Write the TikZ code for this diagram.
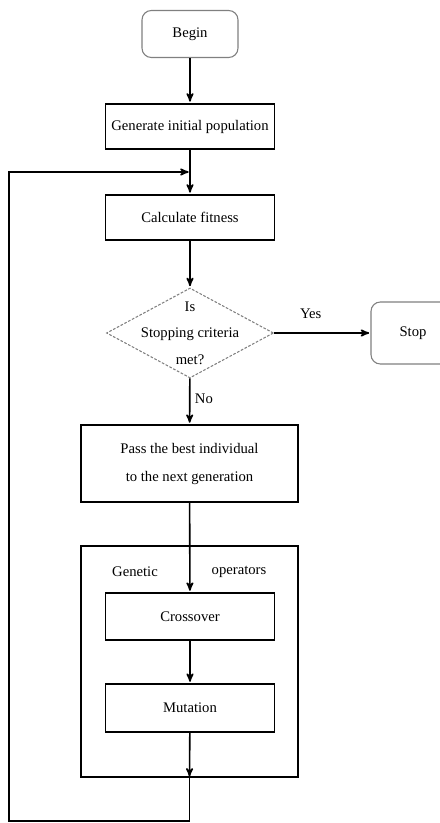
\documentclass[tikz,border=0pt]{standalone}
\usepackage{fontspec}
\setmainfont{Liberation Serif}
\usetikzlibrary{arrows,shapes.geometric}

\begin{document}
\begin{tikzpicture}[x=0.75pt,y=-0.75pt,->,>=stealth',shorten >=1pt,auto,line width=1.2pt,
  font=\fontsize{11}{13}\selectfont,
  end node/.style={rectangle,rounded corners=7pt,draw=gray,line width=0.8pt,minimum height=35.25pt},
  proc node/.style={rectangle,draw,line width=1.3pt,minimum width=126.75pt,minimum height=34pt},
  test node/.style={diamond,draw=gray,line width=0.8pt,dash pattern=on 2pt off 1.2pt,aspect=1.85,
    inner sep=-7.5pt,align=center,minimum width=125.25pt,minimum height=67.5pt},
  group node/.style={rectangle,draw,line width=1.3pt,minimum width=162.75pt}]

  \useasboundingbox (0,0) rectangle (439,823);

  \node[end node,minimum width=72pt] (begin) at (190,34) {Begin};
  \node[proc node] (gen) at (190,126.5) {Generate initial population};
  \node[proc node] (calc) at (190,217.5) {Calculate fitness};
  \node[test node] (test) at (190,333) {Is\\[7pt]Stopping criteria\\[7pt]met?};
  \node[end node,minimum width=63pt,minimum height=46.5pt] (stop) at (413,333) {Stop};
  \node[group node,minimum height=57.75pt,align=center] (pass) at (189.5,463.5)
    {Pass the best individual\\[8pt]to the next generation};

  \node[group node,minimum height=173.25pt] (ops) at (189.5,661.5) {};
  \node (genTxt) at (135,572) {Genetic};
  \node (opsTxt) at (239,572) {operators};
  \node[proc node,minimum height=35.25pt] (cross) at (190,616.5) {Crossover};
  \node[proc node,minimum height=36pt] (mut) at (190,708) {Mutation};

  % loop back to fitness
  \coordinate (loopin) at (190,172);
  \coordinate (loopbl) at (9,821);

  \path
    (begin) edge (gen)
    (gen) edge (calc)
    (calc) edge (test)
    (test) edge node[pos=0.38,yshift=7pt] {Yes} (stop)
    (test) edge node[pos=0.45] {No} (pass)
    (pass) edge (cross)
    (cross) edge (mut)
    (mut) edge (ops.south)
    ;
  \draw (ops.south) -- (ops.south |- loopbl) -- (loopbl) |- (loopin);
\end{tikzpicture}
\end{document}
